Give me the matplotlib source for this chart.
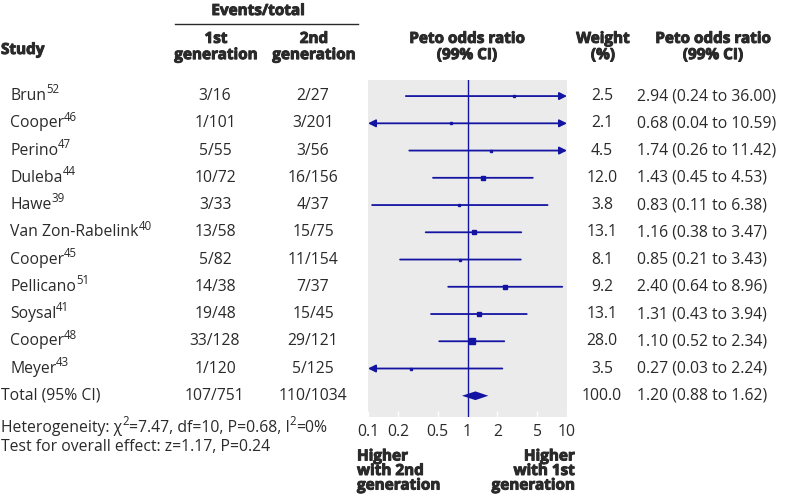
import matplotlib
matplotlib.use("Agg")
import matplotlib.pyplot as plt
import matplotlib.transforms as mtransforms
import matplotlib.patheffects as pe
import numpy as np

plt.rcParams['font.family'] = ['Open Sans', 'DejaVu Sans']

studies = ['Brun', 'Cooper', 'Perino', 'Duleba', 'Hawe', 'Van Zon-Rabelink',
           'Cooper', 'Pellicano', 'Soysal', 'Cooper', 'Meyer']
refs = ['52', '46', '47', '44', '39', '40', '45', '51', '41', '48', '43']
events_1st = ['3/16', '1/101', '5/55', '10/72', '3/33', '13/58', '5/82',
              '14/38', '19/48', '33/128', '1/120']
events_2nd = ['2/27', '3/201', '3/56', '16/156', '4/37', '15/75', '11/154',
              '7/37', '15/45', '29/121', '5/125']
weights = [2.5, 2.1, 4.5, 12.0, 3.8, 13.1, 8.1, 9.2, 13.1, 28.0, 3.5]
odds = [2.94, 0.68, 1.74, 1.43, 0.83, 1.16, 0.85, 2.40, 1.31, 1.10, 0.27]
ci_lo = [0.24, 0.04, 0.26, 0.45, 0.11, 0.38, 0.21, 0.64, 0.43, 0.52, 0.03]
ci_hi = [36.00, 10.59, 11.42, 4.53, 6.38, 3.47, 3.43, 8.96, 3.94, 2.34, 2.24]
total_1st, total_2nd = '107/751', '110/1034'
total_weight, total_or, total_lo, total_hi = 100.0, 1.20, 0.88, 1.62
xticks = [0.1, 0.2, 0.5, 1, 2, 5, 10]
xticklabels = ['0.1', '0.2', '0.5', '1', '2', '5', '10']

W, H = 790, 500
blue = '#1414a3'
txt = '#2a2a2a'
fs = 11.3
sfs = 8.3
hfs = 11

fig = plt.figure(figsize=(W / 100, H / 100), dpi=100)


def fx(px):
    return px / W


def fy(py):
    return 1 - py / H


ax = fig.add_axes([fx(368), fy(417), fx(567) - fx(368), (417 - 80) / H])
ax.set_facecolor('#ebebeb')
for s in ax.spines.values():
    s.set_visible(False)
ax.set_xscale('log')
ax.set_xlim(0.1, 10)
n = len(studies)
ax.set_ylim(n + 0.78, -0.59)
ax.set_yticks([])
ax.set_xticks(xticks)
ax.set_xticklabels(xticklabels)
ax.minorticks_off()
ax.tick_params(axis='x', direction='in', color='white', length=4, width=1,
               pad=5, labelsize=fs, labelcolor=txt)
ax.axvline(1, color=blue, lw=1)

xmin, xmax = ax.get_xlim()
for i in range(n):
    lo = max(ci_lo[i], xmin)
    hi = min(ci_hi[i], xmax)
    left_out = ci_lo[i] < xmin
    right_out = ci_hi[i] > xmax
    if left_out and right_out:
        style = '<|-|>'
    elif right_out:
        style = '-|>'
    elif left_out:
        style = '<|-'
    else:
        style = '-'
    ax.annotate('', xy=(hi, i), xytext=(lo, i),
                arrowprops=dict(arrowstyle=style, color=blue, lw=1.3,
                                mutation_scale=11, shrinkA=0, shrinkB=0))
    side = max(np.sqrt(weights[i]), 2.0) * 0.72
    ax.plot(odds[i], i, marker='s', ms=side, color=blue, mec=blue, lw=0)

# pooled diamond
ax.fill([total_lo, total_or, total_hi, total_or], [n, n - 0.16, n, n + 0.16],
        color=blue, lw=0)

rows = mtransforms.blended_transform_factory(fig.transFigure, ax.transData)
renderer = fig.canvas.get_renderer()


def sup_after(t, s, size=sfs, dy=4.5):
    bb = t.get_window_extent(renderer)
    x, y = t.get_position()
    tr = mtransforms.offset_copy(t.get_transform(), fig=fig, y=dy, units='points')
    return fig.text(bb.x1 / fig.bbox.width, y, s, transform=tr, fontsize=size,
                    color=txt, va='center', ha='left')


for i in range(n):
    t = fig.text(fx(10), i, studies[i], transform=rows, fontsize=fs, color=txt,
                 va='center', ha='left')
    sup_after(t, refs[i])
    fig.text(fx(215), i, events_1st[i], transform=rows, fontsize=fs, color=txt,
             va='center', ha='center')
    fig.text(fx(313), i, events_2nd[i], transform=rows, fontsize=fs, color=txt,
             va='center', ha='center')
    fig.text(fx(602), i, f'{weights[i]:.1f}', transform=rows, fontsize=fs,
             color=txt, va='center', ha='center')
    fig.text(fx(637), i, f'{odds[i]:.2f} ({ci_lo[i]:.2f} to {ci_hi[i]:.2f})',
             transform=rows, fontsize=fs, color=txt, va='center', ha='left')

fig.text(fx(1), n, 'Total (95% CI)', transform=rows, fontsize=fs, color=txt,
         va='center', ha='left')
fig.text(fx(215), n, total_1st, transform=rows, fontsize=fs, color=txt,
         va='center', ha='center')
fig.text(fx(313), n, total_2nd, transform=rows, fontsize=fs, color=txt,
         va='center', ha='center')
fig.text(fx(602), n, f'{total_weight:.1f}', transform=rows, fontsize=fs,
         color=txt, va='center', ha='center')
fig.text(fx(637), n, f'{total_or:.2f} ({total_lo:.2f} to {total_hi:.2f})',
         transform=rows, fontsize=fs, color=txt, va='center', ha='left')

# heterogeneity line built from pieces so the superscripts use the text font
pieces = [('Heterogeneity: χ', False), ('2', True),
          ('=7.47, df=10, P=0.68, I', False), ('2', True), ('=0%', False)]
x = fx(1)
for s, is_sup in pieces:
    if is_sup:
        t = fig.text(x, fy(428), s, fontsize=sfs, color=txt, va='center',
                     ha='left',
                     transform=mtransforms.offset_copy(fig.transFigure, fig=fig,
                                                       y=4.5, units='points'))
    else:
        t = fig.text(x, fy(428), s, fontsize=fs, color=txt, va='center', ha='left')
    x = t.get_window_extent(renderer).x1 / fig.bbox.width
fig.text(fx(1), fy(447), 'Test for overall effect: z=1.17, P=0.24', fontsize=fs,
         color=txt, va='center', ha='left')

# headers
heavy = [pe.withStroke(linewidth=0.7, foreground=txt)]
bold = dict(fontsize=hfs, color=txt, fontweight='bold', path_effects=heavy)
fig.text(fx(258), fy(11), 'Events/total', ha='center', va='center', **bold)
fig.add_artist(plt.Line2D([fx(175), fx(358)], [fy(24), fy(24)], color=txt, lw=1))
fig.text(fx(216), fy(47), '1st\ngeneration', ha='center', va='center',
         linespacing=1.2, **bold)
fig.text(fx(314), fy(47), '2nd\ngeneration', ha='center', va='center',
         linespacing=1.2, **bold)
fig.text(fx(1), fy(50), 'Study', ha='left', va='center', **bold)
fig.text(fx(467), fy(47), 'Peto odds ratio\n(99% CI)', ha='center',
         va='center', linespacing=1.2, **bold)
fig.text(fx(603), fy(47), 'Weight\n(%)', ha='center', va='center',
         linespacing=1.2, **bold)
fig.text(fx(713), fy(47), 'Peto odds ratio\n(99% CI)', ha='center',
         va='center', linespacing=1.2, **bold)

fig.text(fx(357), fy(471), 'Higher\nwith 2nd\ngeneration', ha='left',
         va='center', linespacing=1.05, **bold)
fig.text(fx(575), fy(471), 'Higher\nwith 1st\ngeneration', ha='right',
         va='center', linespacing=1.05, multialignment='right', **bold)

fig.savefig('out.png', dpi=100, facecolor='white')
